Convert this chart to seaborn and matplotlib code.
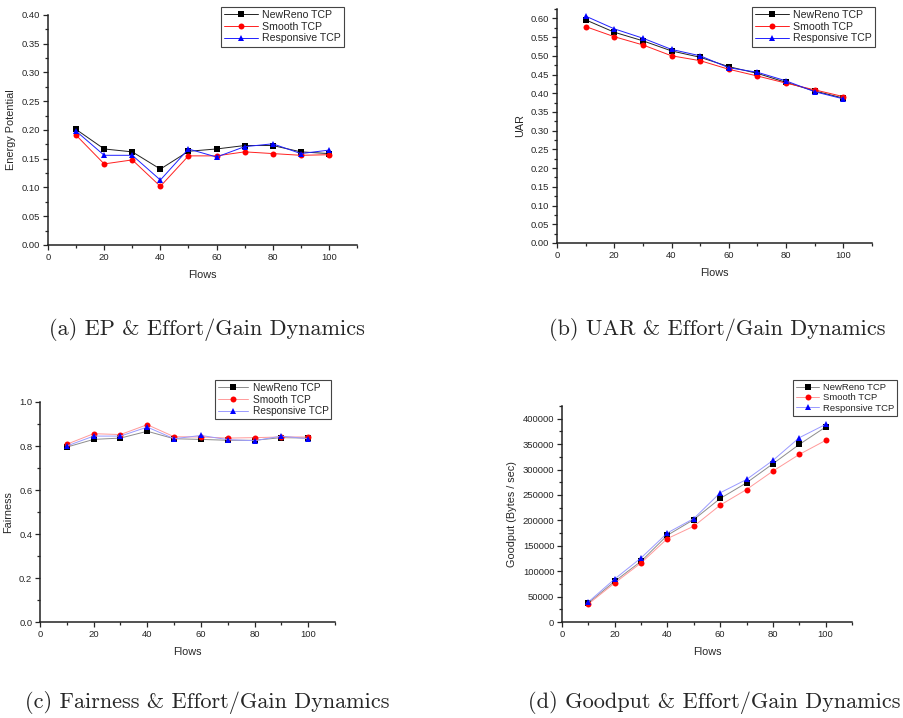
import matplotlib
matplotlib.use("Agg")
import matplotlib.pyplot as plt
import numpy as np
import seaborn as sns
from matplotlib.ticker import MultipleLocator, FormatStrFormatter

sns.set_style("ticks")
plt.rcParams["font.family"] = ["Liberation Sans", "DejaVu Sans"]

# ── data ──────────────────────────────────────────────────────────────────────
flows = [10, 20, 30, 40, 50, 60, 70, 80, 90, 100]
protocols = ["NewReno TCP", "Smooth TCP", "Responsive TCP"]

ep_newreno    = [0.201, 0.167, 0.162, 0.132, 0.163, 0.167, 0.173, 0.173, 0.162, 0.159]
ep_smooth     = [0.191, 0.141, 0.148, 0.102, 0.155, 0.155, 0.162, 0.159, 0.156, 0.157]
ep_responsive = [0.198, 0.156, 0.156, 0.113, 0.167, 0.153, 0.171, 0.176, 0.159, 0.165]

uar_newreno    = [0.596, 0.563, 0.540, 0.513, 0.496, 0.471, 0.453, 0.429, 0.406, 0.387]
uar_smooth     = [0.578, 0.551, 0.529, 0.500, 0.487, 0.464, 0.446, 0.427, 0.409, 0.391]
uar_responsive = [0.606, 0.572, 0.547, 0.517, 0.500, 0.468, 0.456, 0.433, 0.404, 0.385]

fair_newreno    = [0.795, 0.830, 0.836, 0.867, 0.833, 0.830, 0.826, 0.826, 0.838, 0.836]
fair_smooth     = [0.808, 0.856, 0.852, 0.897, 0.842, 0.841, 0.836, 0.838, 0.841, 0.841]
fair_responsive = [0.800, 0.845, 0.845, 0.886, 0.833, 0.848, 0.829, 0.824, 0.845, 0.833]

gp_newreno    = [37400, 80100, 119500, 170800, 201600, 243000, 273900, 311300, 349400, 383600]
gp_smooth     = [35500, 76800, 116300, 164200, 188500, 229900, 260700, 296900, 329700, 357300]
gp_responsive = [39400, 84700, 126100, 175400, 203600, 254200, 280500, 317900, 362600, 388800]

captions = ["(a) EP & Effort/Gain Dynamics", "(b) UAR & Effort/Gain Dynamics",
            "(c) Fairness & Effort/Gain Dynamics", "(d) Goodput & Effort/Gain Dynamics"]

# marker colour, marker, marker size, line colour (normal, pale)
STYLE = [("black", "s", 3.8, "#222222", "#8c8c8c"),
         ("red", "o", 4.3, "#ff2020", "#ff9a9a"),
         ("blue", "^", 4.8, "#2020ff", "#9a9aff")]

fig = plt.figure(figsize=(9.04, 7.18), dpi=100)


def panel(rect, series, ylabel, ymax, major, minor, fmt, legend_xy,
          pale=False, leg_size=7.6, handlelength=3.2):
    ax = fig.add_axes(rect)
    for name, vals, (col, mk, ms, lc, lc_pale) in zip(protocols, series, STYLE):
        sns.lineplot(x=flows, y=vals, ax=ax, label=name,
                     color=lc_pale if pale else lc, lw=0.7,
                     marker=mk, markersize=ms, markeredgewidth=0,
                     markerfacecolor=col)
    ax.set_xlim(0, 110)
    ax.set_ylim(0, ymax)
    ax.xaxis.set_major_locator(MultipleLocator(20))
    ax.xaxis.set_minor_locator(MultipleLocator(10))
    ax.yaxis.set_major_locator(MultipleLocator(major))
    ax.yaxis.set_minor_locator(MultipleLocator(minor))
    ax.yaxis.set_major_formatter(FormatStrFormatter(fmt))
    ax.tick_params(which="major", direction="out", length=3.5, width=0.9, labelsize=6.8, pad=2)
    ax.tick_params(which="minor", direction="out", length=2, width=0.9)
    for s in ("top", "right"):
        ax.spines[s].set_visible(False)
    for s in ("left", "bottom"):
        ax.spines[s].set_linewidth(1.1)
        ax.spines[s].set_color("#222222")
    ax.set_xlabel("Flows", fontsize=7.8, labelpad=6)
    ax.set_ylabel(ylabel, fontsize=7.8, labelpad=4)
    handles, labels = ax.get_legend_handles_labels()
    leg = ax.legend(handles, labels, loc="upper left", bbox_to_anchor=legend_xy,
                    bbox_transform=fig.transFigure, fontsize=leg_size, frameon=True,
                    fancybox=False, framealpha=1, edgecolor="#444444",
                    borderpad=0.3, labelspacing=0.15, handlelength=handlelength,
                    handletextpad=0.4, borderaxespad=0)
    leg.get_frame().set_linewidth(0.8)
    return ax


W, H = 904.0, 718.0


def rect(l, r, t, b):
    return [l / W, 1 - b / H, (r - l) / W, (b - t) / H]


panel(rect(48, 357, 15, 245), [ep_newreno, ep_smooth, ep_responsive],
      "Energy Potential", 0.40, 0.05, 0.025, "%.2f", (221 / W, 1 - 7 / H))
panel(rect(557, 872, 9, 243), [uar_newreno, uar_smooth, uar_responsive],
      "UAR", 0.625, 0.05, 0.025, "%.2f", (752 / W, 1 - 7 / H))
panel(rect(40, 335, 402, 622), [fair_newreno, fair_smooth, fair_responsive],
      "Fairness", 1.0, 0.2, 0.1, "%.1f", (215 / W, 1 - 380 / H),
      pale=True, leg_size=7.3, handlelength=3.0)
panel(rect(562, 852, 406, 622), [gp_newreno, gp_smooth, gp_responsive],
      "Goodput (Bytes / sec)", 425000, 50000, 25000, "%d", (793 / W, 1 - 380 / H),
      pale=True, leg_size=6.8, handlelength=2.5)

for (cx, cy), text in zip([(207, 330), (717, 330), (207, 703), (714, 703)], captions):
    fig.text(cx / W, 1 - cy / H, text, ha="center", va="center",
             family="cmr10", fontsize=16)

fig.savefig("out.png", dpi=100)
